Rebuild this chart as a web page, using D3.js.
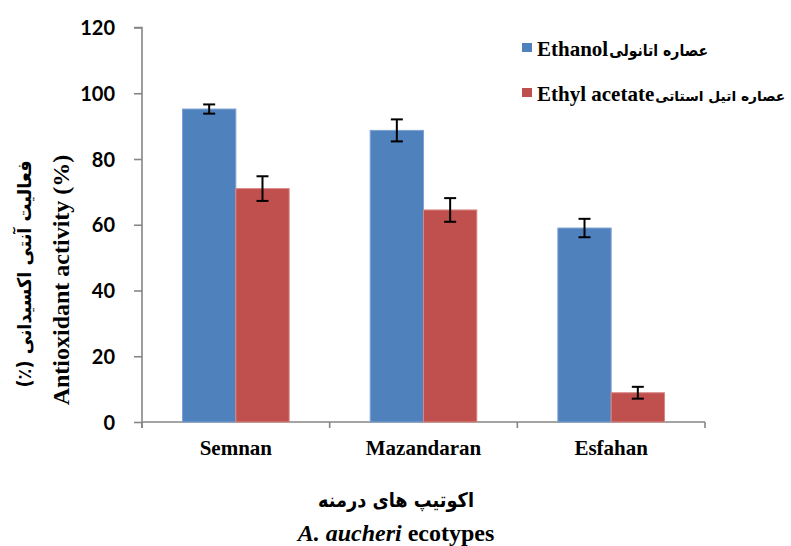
<!DOCTYPE html>
<html><head><meta charset="utf-8">
<script src="https://cdn.jsdelivr.net/npm/d3@7"></script>
<style>body{margin:0;background:#fff}svg{display:block}</style>
</head><body>
<svg id="c" width="791" height="546"></svg>
<script>
const categories = ["Semnan", "Mazandaran", "Esfahan"];
const seriesNames = ["Ethanol", "Ethyl acetate"];
const seriesFa = ["عصاره اتانولی", "عصاره اتیل استاتی"];
const ethanolValues = [95.2, 88.7, 59.0];
const ethanolErrors = [1.4, 3.35, 2.8];
const ethylAcetateValues = [71.0, 64.5, 8.9];
const ethylAcetateErrors = [3.75, 3.6, 1.8];
const yTicks = [0, 20, 40, 60, 80, 100, 120];
const colors = ["#4F81BD", "#C0504D"];
const strokeColors = ["#7EA3D3", "#D98784"];

const svg = d3.select("#c");
const m = {left: 142, right: 705, top: 27.5, bottom: 422};
const x0 = d3.scaleBand().domain(categories).range([m.left, m.right]).padding(0);
const x1 = d3.scaleBand().domain(seriesNames).range([0, x0.bandwidth()]).paddingInner(0).paddingOuter(0.76);
const y = d3.scaleLinear().domain([0, 120]).range([m.bottom, m.top]);

const values = [ethanolValues, ethylAcetateValues];
const errors = [ethanolErrors, ethylAcetateErrors];
const data = [];
categories.forEach((c, i) => seriesNames.forEach((s, j) => data.push({c, s, j, v: values[j][i], e: errors[j][i]})));

// y axis
const yAxis = svg.append("g").attr("transform", `translate(${m.left},0)`)
  .call(d3.axisLeft(y).tickValues(yTicks).tickSize(8).tickPadding(19));
yAxis.select(".domain").attr("stroke", "#868686").attr("stroke-width", 1.6).attr("d", `M-8,${m.top}H0V${m.bottom + 6}`);
yAxis.selectAll(".tick line").attr("stroke", "#868686").attr("stroke-width", 1.6);
yAxis.selectAll(".tick text").attr("font-family", "Lato").attr("font-weight", "bold").attr("font-size", 20).attr("fill", "#000").attr("dy", "0.36em");

// x axis
const xg = svg.append("g");
xg.append("line").attr("x1", m.left).attr("x2", m.right).attr("y1", m.bottom).attr("y2", m.bottom)
  .attr("stroke", "#868686").attr("stroke-width", 1.6);
const bounds = categories.map(c => x0(c)).concat([x0(categories[categories.length - 1]) + x0.bandwidth()]);
xg.selectAll("line.t").data(bounds).join("line").attr("class", "t")
  .attr("x1", d => d).attr("x2", d => d).attr("y1", m.bottom).attr("y2", m.bottom + 6)
  .attr("stroke", "#868686").attr("stroke-width", 1.6);
xg.selectAll("text").data(categories).join("text")
  .attr("x", d => x0(d) + x0.bandwidth() / 2).attr("y", 455)
  .attr("text-anchor", "middle").attr("font-family", "Liberation Serif").attr("font-weight", "bold").attr("font-size", 21)
  .text(d => d);

// bars
svg.append("g").selectAll("rect").data(data).join("rect")
  .attr("x", d => x0(d.c) + x1(d.s)).attr("width", x1.bandwidth())
  .attr("y", d => y(d.v)).attr("height", d => y(0) - y(d.v))
  .attr("fill", d => colors[d.j]).attr("stroke", d => strokeColors[d.j]).attr("stroke-width", 1);

// error bars
const eg = svg.append("g").attr("stroke", "#000").attr("stroke-width", 2);
data.forEach(d => {
  const cx = x0(d.c) + x1(d.s) + x1.bandwidth() / 2;
  eg.append("line").attr("x1", cx).attr("x2", cx).attr("y1", y(d.v + d.e)).attr("y2", y(d.v - d.e));
  [d.v + d.e, d.v - d.e].forEach(v => eg.append("line").attr("x1", cx - 6).attr("x2", cx + 6).attr("y1", y(v)).attr("y2", y(v)));
});

// legend
const lg = svg.append("g");
seriesNames.forEach((s, i) => {
  const ly = 47 + i * 45;
  lg.append("rect").attr("x", 522).attr("y", ly - 4).attr("width", 10).attr("height", 9).attr("fill", colors[i]);
  const en = lg.append("text").attr("x", 537).attr("y", ly + 9).attr("font-family", "Liberation Serif").attr("font-weight", "bold").attr("font-size", 21).text(s);
  const w = en.node().getComputedTextLength();
  const faW = i === 0 ? 99 : 130;
  lg.append("text").attr("x", 537 + w + 1).attr("y", ly + 9).attr("text-anchor", "start")
    .attr("font-family", "DejaVu Sans").attr("font-weight", "bold").attr("font-size", i === 0 ? 16 : 13.5)
    .attr("textLength", faW).attr("lengthAdjust", "spacingAndGlyphs").text(seriesFa[i]);
});

// y title
svg.append("text").attr("transform", "translate(31,274) rotate(-90)").attr("text-anchor", "middle")
  .attr("direction", "rtl").attr("font-family", "DejaVu Sans").attr("font-weight", "bold").attr("font-size", 19)
  .attr("textLength", 227).attr("lengthAdjust", "spacingAndGlyphs")
  .text("فعالیت آنتی اکسیدانی (٪)");
svg.append("text").attr("transform", "translate(69,280) rotate(-90)").attr("text-anchor", "middle")
  .attr("font-family", "Liberation Serif").attr("font-weight", "bold").attr("font-size", 24)
  .text("Antioxidant activity (%)");

// x title
svg.append("text").attr("x", 396).attr("y", 507).attr("text-anchor", "middle").attr("direction", "rtl")
  .attr("font-family", "DejaVu Sans").attr("font-weight", "bold").attr("font-size", 20)
  .attr("textLength", 156).attr("lengthAdjust", "spacingAndGlyphs")
  .text("اکوتیپ های درمنه");
const xt = svg.append("text").attr("x", 396).attr("y", 541).attr("text-anchor", "middle")
  .attr("font-family", "Liberation Serif").attr("font-weight", "bold").attr("font-size", 24);
xt.append("tspan").attr("font-style", "italic").text("A. aucheri");
xt.append("tspan").text(" ecotypes");
</script>
</body></html>
